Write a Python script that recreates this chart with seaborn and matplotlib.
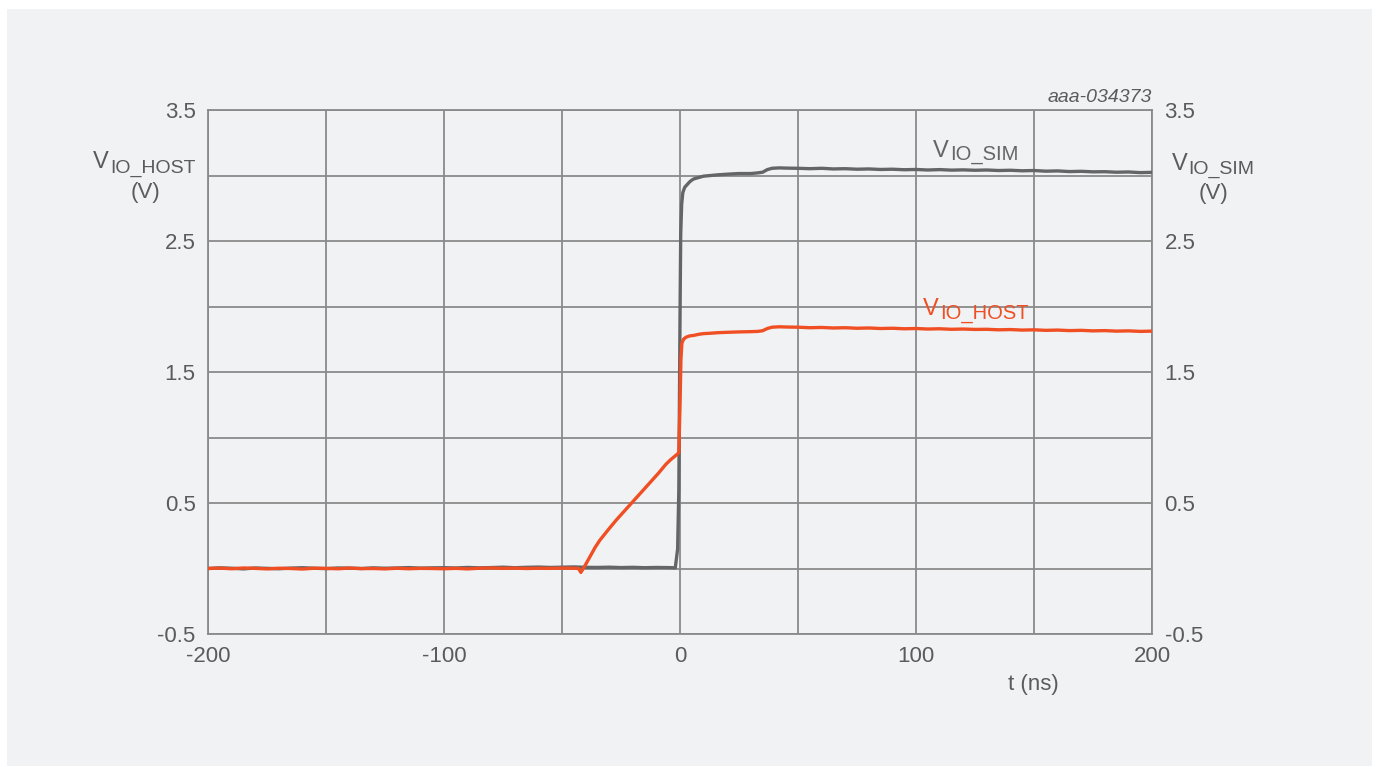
import numpy as np
import pandas as pd
import matplotlib
matplotlib.use("Agg")
import matplotlib.pyplot as plt
from matplotlib.patches import Rectangle
from matplotlib.ticker import FixedLocator
import seaborn as sns

# ---------------- data ----------------
t_sim = ([-200, -195, -190, -185, -180, -175, -170, -165, -160, -155,
          -150, -145, -140, -135, -130, -125, -120, -115, -110, -105,
          -100, -95, -90, -85, -80, -75, -70, -65, -60, -55,
          -50, -45, -40, -35, -30, -25, -20, -15, -10, -5,
          -2, -1, -0.5, 0, 0.3, 0.7, 1.2, 2, 3, 4, 5, 6, 8, 10, 13, 16, 20, 25, 30,
          33, 35, 37, 39, 42, 46, 50,
          55, 60, 65, 70, 75, 80, 85, 90, 95, 100,
          105, 110, 115, 120, 125, 130, 135, 140, 145, 150,
          155, 160, 165, 170, 175, 180, 185, 190, 195, 200])
v_sim = ([0.000, 0.005, 0.002, -0.003, 0.004, 0.001, -0.002, 0.003, 0.006, 0.002,
          -0.001, 0.004, 0.003, 0.000, 0.005, 0.002, 0.004, 0.007, 0.003, 0.005,
          0.006, 0.004, 0.008, 0.005, 0.007, 0.010, 0.006, 0.009, 0.011, 0.008,
          0.010, 0.012, 0.009, 0.008, 0.010, 0.007, 0.009, 0.006, 0.008, 0.007,
          0.005, 0.15, 0.60, 1.90, 2.55, 2.78, 2.87, 2.91, 2.93, 2.95, 2.965, 2.975, 2.985, 2.995, 3.000, 3.005, 3.010, 3.015, 3.015,
          3.020, 3.025, 3.045, 3.055, 3.058, 3.056, 3.055,
          3.052, 3.055, 3.050, 3.052, 3.048, 3.050, 3.046, 3.048, 3.044, 3.046,
          3.042, 3.045, 3.041, 3.043, 3.040, 3.042, 3.038, 3.040, 3.036, 3.038,
          3.033, 3.035, 3.030, 3.032, 3.028, 3.029, 3.025, 3.027, 3.022, 3.024])

t_host = ([-200, -195, -190, -185, -180, -175, -170, -165, -160, -155,
           -150, -145, -140, -135, -130, -125, -120, -115, -110, -105,
           -100, -95, -90, -85, -80, -75, -70, -65, -60, -55,
           -50, -45, -43, -42, -40, -38, -36, -34, -32, -30, -27, -24, -21,
           -18, -15, -12, -9, -6, -4, -2, -1, -0.5, 0, 0.4, 0.8, 1.5, 2.5, 4, 6, 8, 10,
           13, 16, 20, 25, 30, 33, 35, 37, 39, 42, 46, 50,
           55, 60, 65, 70, 75, 80, 85, 90, 95, 100,
           105, 110, 115, 120, 125, 130, 135, 140, 145, 150,
           155, 160, 165, 170, 175, 180, 185, 190, 195, 200])
v_host = ([0.000, 0.003, -0.002, 0.004, 0.001, -0.003, 0.002, 0.000, -0.004, 0.002,
           0.001, -0.002, 0.003, -0.001, 0.000, -0.003, 0.002, -0.002, 0.001, 0.000,
           -0.002, 0.001, -0.003, 0.002, 0.004, 0.001, 0.003, 0.000, 0.002, 0.001,
           0.003, 0.002, 0.000, -0.030, 0.030, 0.095, 0.160, 0.215, 0.260, 0.305, 0.370, 0.430, 0.490,
           0.550, 0.610, 0.670, 0.730, 0.795, 0.830, 0.860, 0.875, 0.885, 1.25, 1.60, 1.72, 1.75, 1.765, 1.775, 1.780, 1.788, 1.793,
           1.796, 1.800, 1.803, 1.806, 1.808, 1.810, 1.815, 1.832, 1.842, 1.845, 1.843, 1.842,
           1.838, 1.840, 1.836, 1.838, 1.834, 1.836, 1.832, 1.834, 1.830, 1.832,
           1.828, 1.830, 1.826, 1.828, 1.825, 1.826, 1.822, 1.824, 1.820, 1.822,
           1.818, 1.820, 1.816, 1.818, 1.814, 1.816, 1.812, 1.814, 1.810, 1.812])

x_major = [-200, -100, 0, 100, 200]
x_minor = [-150, -50, 50, 150]
y_major = [-0.5, 0.5, 1.5, 2.5, 3.5]
y_minor = [0, 1, 2, 3]
x_tick_labels = ["-200", "-100", "0", "100", "200"]
y_tick_labels = ["-0.5", "0.5", "1.5", "2.5", "3.5"]

# ---------------- style ----------------
W, H = 1376, 767
BG = "#f1f2f4"
GRID = "#8a8a8a"
TXT = "#5a5b5d"
ORANGE = "#f04e23"
DARK = "#646567"

sns.set_theme(style="whitegrid")
plt.rcParams["font.family"] = ["Liberation Sans", "DejaVu Sans"]

fig = plt.figure(figsize=(W / 100, H / 100), dpi=100)
fig.patch.set_facecolor("white")
fig.patches.append(Rectangle((7 / W, 1 - 766 / H), (1372 - 7) / W, (766 - 9) / H,
                             transform=fig.transFigure, facecolor=BG,
                             edgecolor="none", zorder=-10))

L, R, T, B = 208, 1152, 110, 634
ax = fig.add_axes([L / W, 1 - B / H, (R - L) / W, (B - T) / H])
ax.set_facecolor(BG)

df_sim = pd.DataFrame({"t": t_sim, "v": v_sim})
df_host = pd.DataFrame({"t": t_host, "v": v_host})
sns.lineplot(data=df_sim, x="t", y="v", color=DARK, linewidth=2.4,
             estimator=None, sort=False, ax=ax, zorder=3)
sns.lineplot(data=df_host, x="t", y="v", color=ORANGE, linewidth=2.4,
             estimator=None, sort=False, ax=ax, zorder=4)

ax.set_xlim(-200, 200)
ax.set_ylim(-0.5, 3.5)
ax.xaxis.set_major_locator(FixedLocator(x_major))
ax.xaxis.set_minor_locator(FixedLocator(x_minor))
ax.yaxis.set_major_locator(FixedLocator(y_major))
ax.yaxis.set_minor_locator(FixedLocator(y_minor))
ax.set_xticklabels(x_tick_labels)
ax.set_yticklabels(y_tick_labels)
ax.set_xlabel("")
ax.set_ylabel("")
ax.grid(True, which="both", color=GRID, linewidth=1.3)
ax.tick_params(axis="both", which="both", length=0, labelsize=16, labelcolor=TXT)
ax.tick_params(axis="x", pad=9)
ax.tick_params(axis="y", pad=9, labelleft=True, labelright=True)
for s in ax.spines.values():
    s.set_visible(True)
    s.set_color(GRID)
    s.set_linewidth(1.3)


def fx(x):
    return x / W


def fy(y):
    return 1 - y / H


fig.canvas.draw()
renderer = fig.canvas.get_renderer()


def vlabel(x, y, sub, color, s_main, s_sub, drop):
    t = fig.text(fx(x), fy(y), "V", fontsize=s_main, color=color,
                 ha="left", va="baseline")
    bb = t.get_window_extent(renderer)
    fig.text(fx(bb.x1 + 1), fy(y + drop), sub, fontsize=s_sub, color=color,
             ha="left", va="baseline")


# axis titles
vlabel(93, 168, "IO_HOST", TXT, 17, 14, 5)
fig.text(fx(145), fy(198), "(V)", fontsize=16, color=TXT, ha="center", va="baseline")
vlabel(1172, 170, "IO_SIM", TXT, 17, 14, 4)
fig.text(fx(1213), fy(199), "(V)", fontsize=16, color=TXT, ha="center", va="baseline")

# in-plot series labels
vlabel(933, 157, "IO_SIM", DARK, 17, 14.5, 3)
vlabel(923, 315, "IO_HOST", ORANGE, 17, 14.5, 4)

fig.text(fx(1033), fy(690), "t (ns)", fontsize=16, color=TXT, ha="center", va="baseline")
fig.text(fx(1152), fy(102), "aaa-034373", fontsize=14, color=TXT, ha="right",
         va="baseline", style="italic")

fig.savefig("out.png", dpi=100, facecolor="white")
